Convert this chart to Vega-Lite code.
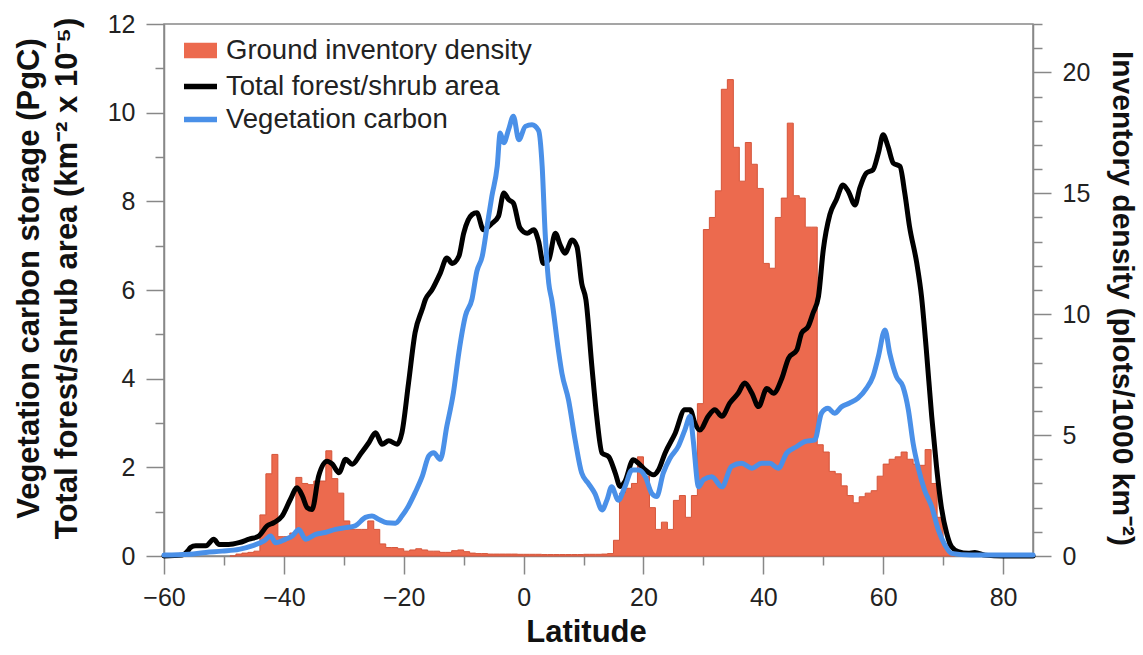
{
  "$schema": "https://vega.github.io/schema/vega-lite/v6.json",
  "width": 869,
  "height": 532,
  "autosize": {"type": "none"},
  "padding": {"left": 164, "top": 24, "right": 110, "bottom": 99},
  "background": "white",
  "config": {
    "font": "Liberation Sans",
    "view": {"stroke": "#888", "strokeWidth": 1.5},
    "axis": {"grid": false, "domainColor": "#888", "domainWidth": 1.5, "tickColor": "#888", "tickWidth": 1.5, "tickSize": 18, "labelPadding": 11, "labelFont": "Liberation Sans", "labelFontSize": 25, "labelColor": "#222", "titleFont": "Liberation Sans", "titleFontSize": 31, "titleFontWeight": "bold", "titleColor": "#111", "labelOverlap": false, "labelBound": false, "labelFlush": false}
  },
  "datasets": {
    "bars": [
      {"lat": -49, "density": 0}, {"lat": -48, "density": 0.08}, {"lat": -47, "density": 0.12}, {"lat": -46, "density": 0.15}, {"lat": -45, "density": 0.2},
      {"lat": -44, "density": 1.7}, {"lat": -43, "density": 3.4}, {"lat": -42, "density": 4.2}, {"lat": -41, "density": 0.8}, {"lat": -40, "density": 0.8},
      {"lat": -39, "density": 0.95}, {"lat": -38, "density": 3.25}, {"lat": -37, "density": 3.0}, {"lat": -36, "density": 2.95}, {"lat": -35, "density": 3.1},
      {"lat": -34, "density": 3.1}, {"lat": -33, "density": 4.35}, {"lat": -32, "density": 3.2}, {"lat": -31, "density": 2.6}, {"lat": -30, "density": 1.45},
      {"lat": -29, "density": 1.1}, {"lat": -28, "density": 1.1}, {"lat": -27, "density": 1.1}, {"lat": -26, "density": 1.45}, {"lat": -25, "density": 1.1},
      {"lat": -24, "density": 0.5}, {"lat": -23, "density": 0.35}, {"lat": -22, "density": 0.35}, {"lat": -21, "density": 0.3}, {"lat": -20, "density": 0.2},
      {"lat": -19, "density": 0.25}, {"lat": -18, "density": 0.3}, {"lat": -17, "density": 0.25}, {"lat": -16, "density": 0.2}, {"lat": -15, "density": 0.2},
      {"lat": -14, "density": 0.15}, {"lat": -13, "density": 0.15}, {"lat": -12, "density": 0.22}, {"lat": -11, "density": 0.25}, {"lat": -10, "density": 0.18},
      {"lat": -9, "density": 0.12}, {"lat": -8, "density": 0.1}, {"lat": -7, "density": 0.1}, {"lat": -6, "density": 0.08}, {"lat": -5, "density": 0.08},
      {"lat": -4, "density": 0.08}, {"lat": -3, "density": 0.08}, {"lat": -2, "density": 0.08}, {"lat": -1, "density": 0.07}, {"lat": 0, "density": 0.07},
      {"lat": 1, "density": 0.07}, {"lat": 2, "density": 0.07}, {"lat": 3, "density": 0.06}, {"lat": 4, "density": 0.06}, {"lat": 5, "density": 0.06},
      {"lat": 6, "density": 0.06}, {"lat": 7, "density": 0.06}, {"lat": 8, "density": 0.06}, {"lat": 9, "density": 0.06}, {"lat": 10, "density": 0.07},
      {"lat": 11, "density": 0.07}, {"lat": 12, "density": 0.07}, {"lat": 13, "density": 0.08}, {"lat": 14, "density": 0.1}, {"lat": 15, "density": 0.65},
      {"lat": 16, "density": 2.6}, {"lat": 17, "density": 2.8}, {"lat": 18, "density": 3.0}, {"lat": 19, "density": 4.1}, {"lat": 20, "density": 3.3},
      {"lat": 21, "density": 2.0}, {"lat": 22, "density": 1.1}, {"lat": 23, "density": 1.4}, {"lat": 24, "density": 1.1}, {"lat": 25, "density": 2.3},
      {"lat": 26, "density": 2.5}, {"lat": 27, "density": 1.6}, {"lat": 28, "density": 2.5}, {"lat": 29, "density": 6.3}, {"lat": 30, "density": 13.5},
      {"lat": 31, "density": 14.0}, {"lat": 32, "density": 15.1}, {"lat": 33, "density": 19.3}, {"lat": 34, "density": 19.7}, {"lat": 35, "density": 16.9},
      {"lat": 36, "density": 15.5}, {"lat": 37, "density": 17.1}, {"lat": 38, "density": 16.2}, {"lat": 39, "density": 15.2}, {"lat": 40, "density": 12.1},
      {"lat": 41, "density": 11.9}, {"lat": 42, "density": 14.0}, {"lat": 43, "density": 14.8}, {"lat": 44, "density": 17.9}, {"lat": 45, "density": 14.9},
      {"lat": 46, "density": 14.8}, {"lat": 47, "density": 13.6}, {"lat": 48, "density": 13.6}, {"lat": 49, "density": 4.6}, {"lat": 50, "density": 4.3},
      {"lat": 51, "density": 3.5}, {"lat": 52, "density": 3.4}, {"lat": 53, "density": 2.9}, {"lat": 54, "density": 2.5}, {"lat": 55, "density": 2.2},
      {"lat": 56, "density": 2.45}, {"lat": 57, "density": 2.6}, {"lat": 58, "density": 2.7}, {"lat": 59, "density": 3.3}, {"lat": 60, "density": 3.8},
      {"lat": 61, "density": 4.0}, {"lat": 62, "density": 4.1}, {"lat": 63, "density": 4.3}, {"lat": 64, "density": 4.0}, {"lat": 65, "density": 3.8},
      {"lat": 66, "density": 3.75}, {"lat": 67, "density": 4.4}, {"lat": 68, "density": 3.0}, {"lat": 69, "density": 1.6}, {"lat": 70, "density": 0.5},
      {"lat": 71, "density": 0.1}, {"lat": 72, "density": 0}
    ],
    "lines": [
      {"s": "Total forest/shrub area", "lat": -60, "v": 0}, {"s": "Total forest/shrub area", "lat": -57, "v": 0.02}, {"s": "Total forest/shrub area", "lat": -56, "v": 0.12},
      {"s": "Total forest/shrub area", "lat": -55.6, "v": 0.19}, {"s": "Total forest/shrub area", "lat": -54.7, "v": 0.23}, {"s": "Total forest/shrub area", "lat": -53, "v": 0.23},
      {"s": "Total forest/shrub area", "lat": -51.7, "v": 0.38}, {"s": "Total forest/shrub area", "lat": -50.8, "v": 0.26}, {"s": "Total forest/shrub area", "lat": -49.2, "v": 0.26},
      {"s": "Total forest/shrub area", "lat": -47.5, "v": 0.3}, {"s": "Total forest/shrub area", "lat": -45.8, "v": 0.38}, {"s": "Total forest/shrub area", "lat": -44.2, "v": 0.45},
      {"s": "Total forest/shrub area", "lat": -42.8, "v": 0.68}, {"s": "Total forest/shrub area", "lat": -41.7, "v": 0.75}, {"s": "Total forest/shrub area", "lat": -40.3, "v": 0.9},
      {"s": "Total forest/shrub area", "lat": -38.9, "v": 1.28}, {"s": "Total forest/shrub area", "lat": -37.8, "v": 1.54}, {"s": "Total forest/shrub area", "lat": -36.9, "v": 1.35},
      {"s": "Total forest/shrub area", "lat": -36.1, "v": 1.09}, {"s": "Total forest/shrub area", "lat": -35.3, "v": 1.05}, {"s": "Total forest/shrub area", "lat": -34.2, "v": 1.8},
      {"s": "Total forest/shrub area", "lat": -32.8, "v": 2.14}, {"s": "Total forest/shrub area", "lat": -31.9, "v": 2.07}, {"s": "Total forest/shrub area", "lat": -30.8, "v": 1.88},
      {"s": "Total forest/shrub area", "lat": -29.7, "v": 2.18}, {"s": "Total forest/shrub area", "lat": -28.6, "v": 2.07}, {"s": "Total forest/shrub area", "lat": -27.2, "v": 2.3},
      {"s": "Total forest/shrub area", "lat": -25.8, "v": 2.56}, {"s": "Total forest/shrub area", "lat": -24.7, "v": 2.78}, {"s": "Total forest/shrub area", "lat": -23.6, "v": 2.52},
      {"s": "Total forest/shrub area", "lat": -22.5, "v": 2.6}, {"s": "Total forest/shrub area", "lat": -21.1, "v": 2.52}, {"s": "Total forest/shrub area", "lat": -20.3, "v": 2.78},
      {"s": "Total forest/shrub area", "lat": -19.2, "v": 3.9}, {"s": "Total forest/shrub area", "lat": -18.1, "v": 5.04}, {"s": "Total forest/shrub area", "lat": -16.9, "v": 5.57},
      {"s": "Total forest/shrub area", "lat": -16.4, "v": 5.78}, {"s": "Total forest/shrub area", "lat": -15.3, "v": 6.0}, {"s": "Total forest/shrub area", "lat": -13.9, "v": 6.38},
      {"s": "Total forest/shrub area", "lat": -12.8, "v": 6.72}, {"s": "Total forest/shrub area", "lat": -11.9, "v": 6.6}, {"s": "Total forest/shrub area", "lat": -10.8, "v": 6.76},
      {"s": "Total forest/shrub area", "lat": -10, "v": 7.28}, {"s": "Total forest/shrub area", "lat": -8.6, "v": 7.7}, {"s": "Total forest/shrub area", "lat": -7.8, "v": 7.74},
      {"s": "Total forest/shrub area", "lat": -6.7, "v": 7.36}, {"s": "Total forest/shrub area", "lat": -5.3, "v": 7.5}, {"s": "Total forest/shrub area", "lat": -4.2, "v": 7.66},
      {"s": "Total forest/shrub area", "lat": -3.3, "v": 8.19}, {"s": "Total forest/shrub area", "lat": -2.5, "v": 8.04}, {"s": "Total forest/shrub area", "lat": -1.7, "v": 7.96},
      {"s": "Total forest/shrub area", "lat": -0.6, "v": 7.4}, {"s": "Total forest/shrub area", "lat": 0.6, "v": 7.28}, {"s": "Total forest/shrub area", "lat": 1.7, "v": 7.36},
      {"s": "Total forest/shrub area", "lat": 2.5, "v": 7.1}, {"s": "Total forest/shrub area", "lat": 3.3, "v": 6.6}, {"s": "Total forest/shrub area", "lat": 4.2, "v": 6.68},
      {"s": "Total forest/shrub area", "lat": 5.3, "v": 7.28}, {"s": "Total forest/shrub area", "lat": 6.1, "v": 7.02}, {"s": "Total forest/shrub area", "lat": 6.9, "v": 6.83},
      {"s": "Total forest/shrub area", "lat": 8.1, "v": 7.13}, {"s": "Total forest/shrub area", "lat": 8.9, "v": 6.98}, {"s": "Total forest/shrub area", "lat": 9.7, "v": 6.15},
      {"s": "Total forest/shrub area", "lat": 10.4, "v": 5.78}, {"s": "Total forest/shrub area", "lat": 11.4, "v": 4.27}, {"s": "Total forest/shrub area", "lat": 12.2, "v": 3.15},
      {"s": "Total forest/shrub area", "lat": 13.1, "v": 2.32}, {"s": "Total forest/shrub area", "lat": 14.2, "v": 2.24}, {"s": "Total forest/shrub area", "lat": 15.3, "v": 1.87},
      {"s": "Total forest/shrub area", "lat": 16.1, "v": 1.57}, {"s": "Total forest/shrub area", "lat": 16.9, "v": 1.68}, {"s": "Total forest/shrub area", "lat": 18.3, "v": 2.17},
      {"s": "Total forest/shrub area", "lat": 19.2, "v": 2.09}, {"s": "Total forest/shrub area", "lat": 20.3, "v": 1.94}, {"s": "Total forest/shrub area", "lat": 21.7, "v": 1.83},
      {"s": "Total forest/shrub area", "lat": 22.5, "v": 1.94}, {"s": "Total forest/shrub area", "lat": 23.6, "v": 2.32}, {"s": "Total forest/shrub area", "lat": 25.3, "v": 2.77},
      {"s": "Total forest/shrub area", "lat": 26.9, "v": 3.3}, {"s": "Total forest/shrub area", "lat": 27.8, "v": 3.3}, {"s": "Total forest/shrub area", "lat": 28.6, "v": 2.99},
      {"s": "Total forest/shrub area", "lat": 29.4, "v": 2.84}, {"s": "Total forest/shrub area", "lat": 30.8, "v": 3.15}, {"s": "Total forest/shrub area", "lat": 31.9, "v": 3.3},
      {"s": "Total forest/shrub area", "lat": 33.1, "v": 3.15}, {"s": "Total forest/shrub area", "lat": 34.4, "v": 3.45}, {"s": "Total forest/shrub area", "lat": 35.8, "v": 3.67},
      {"s": "Total forest/shrub area", "lat": 36.9, "v": 3.9}, {"s": "Total forest/shrub area", "lat": 38.1, "v": 3.67}, {"s": "Total forest/shrub area", "lat": 39.2, "v": 3.37},
      {"s": "Total forest/shrub area", "lat": 40.6, "v": 3.78}, {"s": "Total forest/shrub area", "lat": 41.7, "v": 3.67}, {"s": "Total forest/shrub area", "lat": 43.1, "v": 4.01},
      {"s": "Total forest/shrub area", "lat": 44.2, "v": 4.46}, {"s": "Total forest/shrub area", "lat": 45.6, "v": 4.65}, {"s": "Total forest/shrub area", "lat": 46.4, "v": 5.03},
      {"s": "Total forest/shrub area", "lat": 47.5, "v": 5.18}, {"s": "Total forest/shrub area", "lat": 48.3, "v": 5.48}, {"s": "Total forest/shrub area", "lat": 49.2, "v": 5.85},
      {"s": "Total forest/shrub area", "lat": 50, "v": 6.9}, {"s": "Total forest/shrub area", "lat": 51.1, "v": 7.7}, {"s": "Total forest/shrub area", "lat": 52.2, "v": 8.04},
      {"s": "Total forest/shrub area", "lat": 53.3, "v": 8.37}, {"s": "Total forest/shrub area", "lat": 54.2, "v": 8.22}, {"s": "Total forest/shrub area", "lat": 55.3, "v": 7.92},
      {"s": "Total forest/shrub area", "lat": 56.1, "v": 8.3}, {"s": "Total forest/shrub area", "lat": 57.2, "v": 8.64}, {"s": "Total forest/shrub area", "lat": 58.3, "v": 8.71},
      {"s": "Total forest/shrub area", "lat": 59.2, "v": 9.09}, {"s": "Total forest/shrub area", "lat": 60, "v": 9.5}, {"s": "Total forest/shrub area", "lat": 60.8, "v": 9.24},
      {"s": "Total forest/shrub area", "lat": 61.7, "v": 8.86}, {"s": "Total forest/shrub area", "lat": 62.8, "v": 8.79}, {"s": "Total forest/shrub area", "lat": 63.6, "v": 8.19},
      {"s": "Total forest/shrub area", "lat": 64.4, "v": 7.43}, {"s": "Total forest/shrub area", "lat": 65.6, "v": 6.61}, {"s": "Total forest/shrub area", "lat": 66.4, "v": 5.85},
      {"s": "Total forest/shrub area", "lat": 67.2, "v": 4.65}, {"s": "Total forest/shrub area", "lat": 68.1, "v": 3.15}, {"s": "Total forest/shrub area", "lat": 68.9, "v": 2.02},
      {"s": "Total forest/shrub area", "lat": 69.7, "v": 1.11}, {"s": "Total forest/shrub area", "lat": 70.6, "v": 0.51}, {"s": "Total forest/shrub area", "lat": 71.4, "v": 0.21},
      {"s": "Total forest/shrub area", "lat": 72.5, "v": 0.1}, {"s": "Total forest/shrub area", "lat": 74.2, "v": 0.06}, {"s": "Total forest/shrub area", "lat": 75.3, "v": 0.08},
      {"s": "Total forest/shrub area", "lat": 77, "v": 0.02}, {"s": "Total forest/shrub area", "lat": 80, "v": 0}, {"s": "Total forest/shrub area", "lat": 85, "v": 0},
      {"s": "Vegetation carbon", "lat": -60, "v": 0.02}, {"s": "Vegetation carbon", "lat": -55.8, "v": 0.04}, {"s": "Vegetation carbon", "lat": -53, "v": 0.08},
      {"s": "Vegetation carbon", "lat": -50.3, "v": 0.11}, {"s": "Vegetation carbon", "lat": -47.5, "v": 0.15}, {"s": "Vegetation carbon", "lat": -45.3, "v": 0.23},
      {"s": "Vegetation carbon", "lat": -43.3, "v": 0.34}, {"s": "Vegetation carbon", "lat": -42.2, "v": 0.45}, {"s": "Vegetation carbon", "lat": -41.4, "v": 0.3},
      {"s": "Vegetation carbon", "lat": -39.7, "v": 0.38}, {"s": "Vegetation carbon", "lat": -38.6, "v": 0.45}, {"s": "Vegetation carbon", "lat": -37.5, "v": 0.6},
      {"s": "Vegetation carbon", "lat": -36.4, "v": 0.38}, {"s": "Vegetation carbon", "lat": -34.7, "v": 0.49}, {"s": "Vegetation carbon", "lat": -33.1, "v": 0.53},
      {"s": "Vegetation carbon", "lat": -31.4, "v": 0.6}, {"s": "Vegetation carbon", "lat": -29.7, "v": 0.64}, {"s": "Vegetation carbon", "lat": -28.1, "v": 0.68},
      {"s": "Vegetation carbon", "lat": -26.4, "v": 0.87}, {"s": "Vegetation carbon", "lat": -25.3, "v": 0.9}, {"s": "Vegetation carbon", "lat": -24.2, "v": 0.83},
      {"s": "Vegetation carbon", "lat": -22.8, "v": 0.75}, {"s": "Vegetation carbon", "lat": -21.4, "v": 0.74}, {"s": "Vegetation carbon", "lat": -20.3, "v": 0.9},
      {"s": "Vegetation carbon", "lat": -19.2, "v": 1.13}, {"s": "Vegetation carbon", "lat": -18.1, "v": 1.43}, {"s": "Vegetation carbon", "lat": -16.9, "v": 1.8},
      {"s": "Vegetation carbon", "lat": -15.8, "v": 2.26}, {"s": "Vegetation carbon", "lat": -15, "v": 2.33}, {"s": "Vegetation carbon", "lat": -13.9, "v": 2.18},
      {"s": "Vegetation carbon", "lat": -12.8, "v": 2.93}, {"s": "Vegetation carbon", "lat": -11.7, "v": 3.69}, {"s": "Vegetation carbon", "lat": -10.8, "v": 4.59},
      {"s": "Vegetation carbon", "lat": -9.7, "v": 5.42}, {"s": "Vegetation carbon", "lat": -8.6, "v": 5.8}, {"s": "Vegetation carbon", "lat": -7.8, "v": 6.42},
      {"s": "Vegetation carbon", "lat": -6.9, "v": 6.76}, {"s": "Vegetation carbon", "lat": -6.1, "v": 7.43}, {"s": "Vegetation carbon", "lat": -5.3, "v": 8.11},
      {"s": "Vegetation carbon", "lat": -4.4, "v": 8.79}, {"s": "Vegetation carbon", "lat": -3.9, "v": 9.54}, {"s": "Vegetation carbon", "lat": -3.3, "v": 9.32},
      {"s": "Vegetation carbon", "lat": -2.5, "v": 9.62}, {"s": "Vegetation carbon", "lat": -1.7, "v": 9.92}, {"s": "Vegetation carbon", "lat": -0.8, "v": 9.39},
      {"s": "Vegetation carbon", "lat": 0.3, "v": 9.69}, {"s": "Vegetation carbon", "lat": 1.4, "v": 9.73}, {"s": "Vegetation carbon", "lat": 2.5, "v": 9.6},
      {"s": "Vegetation carbon", "lat": 3.1, "v": 8.79}, {"s": "Vegetation carbon", "lat": 3.6, "v": 7.28}, {"s": "Vegetation carbon", "lat": 4.2, "v": 6.15},
      {"s": "Vegetation carbon", "lat": 4.7, "v": 5.78}, {"s": "Vegetation carbon", "lat": 5.8, "v": 4.65}, {"s": "Vegetation carbon", "lat": 6.4, "v": 4.12},
      {"s": "Vegetation carbon", "lat": 7.5, "v": 3.52}, {"s": "Vegetation carbon", "lat": 8.6, "v": 2.62}, {"s": "Vegetation carbon", "lat": 9.7, "v": 1.87},
      {"s": "Vegetation carbon", "lat": 10.8, "v": 1.64}, {"s": "Vegetation carbon", "lat": 11.9, "v": 1.41}, {"s": "Vegetation carbon", "lat": 13.1, "v": 1.04},
      {"s": "Vegetation carbon", "lat": 13.9, "v": 1.26}, {"s": "Vegetation carbon", "lat": 14.7, "v": 1.56}, {"s": "Vegetation carbon", "lat": 15.8, "v": 1.26},
      {"s": "Vegetation carbon", "lat": 16.9, "v": 1.56}, {"s": "Vegetation carbon", "lat": 18.1, "v": 1.94}, {"s": "Vegetation carbon", "lat": 19.2, "v": 1.94},
      {"s": "Vegetation carbon", "lat": 20.3, "v": 1.79}, {"s": "Vegetation carbon", "lat": 21.4, "v": 1.41}, {"s": "Vegetation carbon", "lat": 22.2, "v": 1.34},
      {"s": "Vegetation carbon", "lat": 23.3, "v": 1.87}, {"s": "Vegetation carbon", "lat": 24.4, "v": 2.2}, {"s": "Vegetation carbon", "lat": 25.8, "v": 2.47},
      {"s": "Vegetation carbon", "lat": 26.9, "v": 2.84}, {"s": "Vegetation carbon", "lat": 27.8, "v": 3.15}, {"s": "Vegetation carbon", "lat": 28.3, "v": 2.62},
      {"s": "Vegetation carbon", "lat": 29.2, "v": 1.56}, {"s": "Vegetation carbon", "lat": 30, "v": 1.72}, {"s": "Vegetation carbon", "lat": 31.4, "v": 1.79},
      {"s": "Vegetation carbon", "lat": 33.1, "v": 1.56}, {"s": "Vegetation carbon", "lat": 34.7, "v": 2.02}, {"s": "Vegetation carbon", "lat": 36.4, "v": 2.09},
      {"s": "Vegetation carbon", "lat": 38.1, "v": 1.98}, {"s": "Vegetation carbon", "lat": 39.7, "v": 2.09}, {"s": "Vegetation carbon", "lat": 41.1, "v": 2.09},
      {"s": "Vegetation carbon", "lat": 42.5, "v": 1.98}, {"s": "Vegetation carbon", "lat": 43.9, "v": 2.32}, {"s": "Vegetation carbon", "lat": 45.6, "v": 2.47},
      {"s": "Vegetation carbon", "lat": 46.9, "v": 2.58}, {"s": "Vegetation carbon", "lat": 48.6, "v": 2.62}, {"s": "Vegetation carbon", "lat": 49.7, "v": 3.22},
      {"s": "Vegetation carbon", "lat": 50.8, "v": 3.33}, {"s": "Vegetation carbon", "lat": 51.9, "v": 3.22}, {"s": "Vegetation carbon", "lat": 53.1, "v": 3.37},
      {"s": "Vegetation carbon", "lat": 54.4, "v": 3.45}, {"s": "Vegetation carbon", "lat": 55.8, "v": 3.56}, {"s": "Vegetation carbon", "lat": 57.2, "v": 3.78},
      {"s": "Vegetation carbon", "lat": 58.3, "v": 4.05}, {"s": "Vegetation carbon", "lat": 59.2, "v": 4.5}, {"s": "Vegetation carbon", "lat": 60.3, "v": 5.1},
      {"s": "Vegetation carbon", "lat": 61.1, "v": 4.57}, {"s": "Vegetation carbon", "lat": 62.2, "v": 4.05}, {"s": "Vegetation carbon", "lat": 63.3, "v": 3.82},
      {"s": "Vegetation carbon", "lat": 64.2, "v": 3.3}, {"s": "Vegetation carbon", "lat": 65, "v": 2.54}, {"s": "Vegetation carbon", "lat": 65.8, "v": 2.02},
      {"s": "Vegetation carbon", "lat": 66.9, "v": 1.49}, {"s": "Vegetation carbon", "lat": 68.1, "v": 1.11}, {"s": "Vegetation carbon", "lat": 69.2, "v": 0.59},
      {"s": "Vegetation carbon", "lat": 70.3, "v": 0.25}, {"s": "Vegetation carbon", "lat": 71.4, "v": 0.06}, {"s": "Vegetation carbon", "lat": 74.7, "v": 0.02},
      {"s": "Vegetation carbon", "lat": 85, "v": 0.02}
    ]
  },
  "layer": [
    {
      "data": {"name": "bars"},
      "mark": {"type": "area", "interpolate": "step-after", "color": "#EC6A4E", "stroke": "#D5553A", "strokeWidth": 1, "opacity": 1},
      "encoding": {
        "x": {
          "field": "lat", "type": "quantitative",
          "scale": {"domain": [-60, 85], "nice": false, "zero": false},
          "axis": {
            "values": [-60, -50, -40, -30, -20, -10, 0, 10, 20, 30, 40, 50, 60, 70, 80],
            "labelExpr": "datum.value % 20 === 0 ? datum.label : ''",
            "tickDash": {"condition": {"test": "datum.value % 20 !== 0", "value": [9, 40]}, "value": [40, 0]},
            "labelPadding": 11,
            "title": "Latitude",
            "titleX": 422, "titleY": 76, "titleBaseline": "middle", "titleAlign": "center"
          }
        },
        "y": {
          "field": "density", "type": "quantitative",
          "scale": {"domain": [0, 22], "nice": false},
          "axis": {
            "orient": "right",
            "values": [0, 1, 2, 3, 4, 5, 6, 7, 8, 9, 10, 11, 12, 13, 14, 15, 16, 17, 18, 19, 20, 21, 22],
            "labelExpr": "datum.value % 5 === 0 ? datum.label : ''",
            "tickDash": {"condition": {"test": "datum.value % 5 !== 0", "value": [9, 40]}, "value": [40, 0]},
            "title": "Inventory density (plots/1000 km⁻²)",
            "titleFontSize": 30,
            "titleAngle": 90, "titleX": 88, "titleY": 274, "titleAlign": "center", "titleBaseline": "middle"
          }
        }
      }
    },
    {
      "data": {"name": "lines"},
      "mark": {"type": "line", "strokeWidth": 5, "strokeJoin": "round", "strokeCap": "round", "interpolate": "monotone"},
      "encoding": {
        "x": {"field": "lat", "type": "quantitative", "scale": {"domain": [-60, 85], "nice": false, "zero": false}},
        "y": {
          "field": "v", "type": "quantitative",
          "scale": {"domain": [0, 12], "nice": false},
          "axis": {
            "orient": "left",
            "values": [0, 1, 2, 3, 4, 5, 6, 7, 8, 9, 10, 11, 12],
            "labelExpr": "datum.value % 2 === 0 ? datum.label : ''",
            "tickDash": {"condition": {"test": "datum.value % 2 !== 0", "value": [9, 40]}, "value": [40, 0]},
            "title": ["Vegetation carbon storage (PgC)", "Total forest/shrub area (km⁻² x 10⁻⁵)"],
            "titleAngle": -90, "titleX": -135, "titleY": 254, "titleAlign": "center", "titleBaseline": "middle", "titleLineHeight": 38
          }
        },
        "color": {
          "field": "s", "type": "nominal",
          "scale": {"domain": ["Ground inventory density", "Total forest/shrub area", "Vegetation carbon"], "range": ["#EC6A4E", "#000000", "#4A90E8"]},
          "legend": {
            "orient": "none", "legendX": 17, "legendY": 7, "title": null,
            "symbolType": {"expr": "datum.value === 'Ground inventory density' ? 'M-1,-0.3H1M-1,-0.1H1M-1,0.1H1M-1,0.3H1' : 'stroke'"},
            "symbolSize": 1089, "symbolStrokeWidth": 5.5, "labelFontSize": 27.5, "labelColor": "#222", "labelFont": "Liberation Sans", "labelOffset": 6, "labelLimit": 0, "rowPadding": -1, "padding": 0
          }
        }
      }
    }
  ],
  "resolve": {"scale": {"y": "independent"}}
}
